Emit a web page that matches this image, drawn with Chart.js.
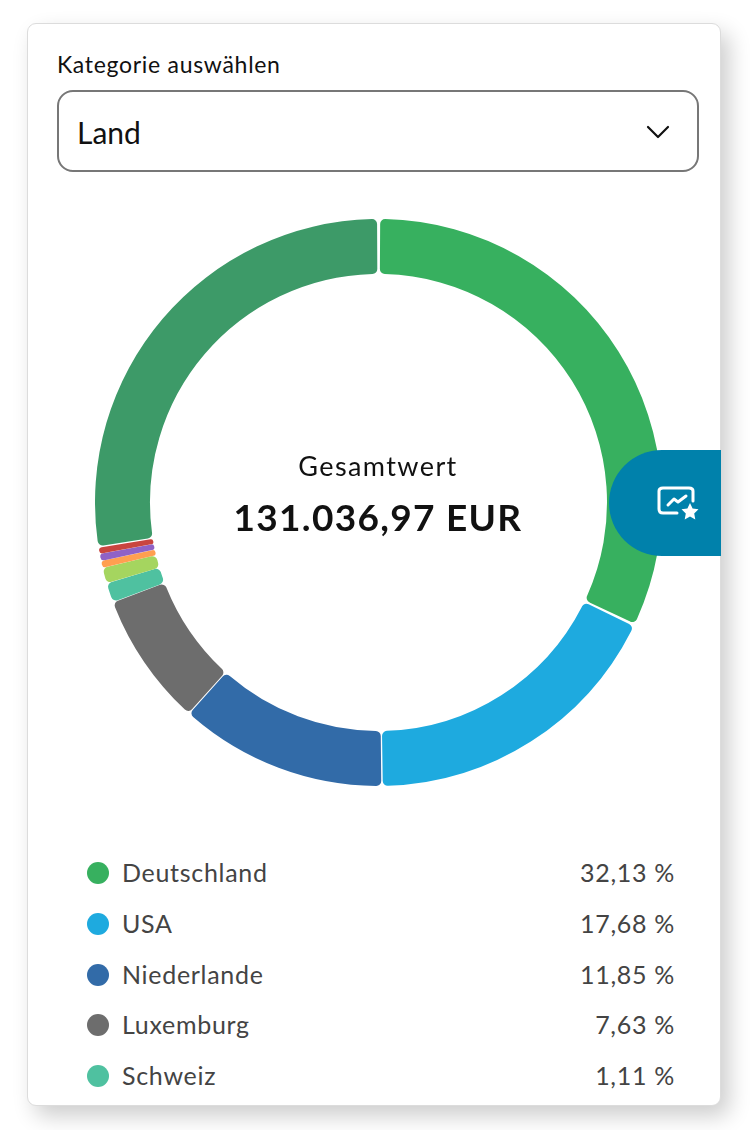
<!DOCTYPE html>
<html lang="de">
<head>
<meta charset="utf-8">
<title>Kategorie auswählen</title>
<script src="https://cdn.jsdelivr.net/npm/chart.js@4/dist/chart.umd.min.js"></script>
<style>
    html, body { margin: 0; padding: 0; background: #fff; width: 750px; height: 1130px; overflow: hidden; }
    body { position: relative; font-family: Lato, sans-serif; color: #111; }
    .card {
        position: absolute; left: 27px; top: 23px; width: 694px; height: 1083px;
        box-sizing: border-box; background: #fff; border: 1px solid #dcdcdc; border-radius: 9px;
        box-shadow: 8px 10px 22px rgba(0, 0, 0, 0.2);
    }
    .label { position: absolute; left: 57px; top: 50px; font-size: 23px; line-height: 28px; letter-spacing: 0.7px; }
    .select {
        position: absolute; left: 57px; top: 90px; width: 642px; height: 82px;
        box-sizing: border-box; border: 2px solid #777; border-radius: 16px;
        font-size: 30px; line-height: 80px; padding-left: 18px;
    }
    .select svg { position: absolute; right: 27px; top: 32px; }
    #chartWrap { position: absolute; left: 95px; top: 219px; width: 567px; height: 567px; }
    .center { position: absolute; left: 78px; width: 600px; text-align: center; }
    #centerLabel { top: 449px; font-size: 27px; line-height: 34px; letter-spacing: 1.4px; }
    #centerValue { top: 495px; font-size: 37px; line-height: 44px; font-weight: 700; letter-spacing: 1.3px; }
    .tab {
        position: absolute; left: 609px; top: 450px; width: 112px; height: 106px;
        background: #0081ab; border-radius: 53px 0 0 53px;
    }
    .tab svg { position: absolute; left: 48px; top: 36px; }
    .row { position: absolute; left: 87px; width: 588px; height: 30px; font-size: 25px; line-height: 30px; letter-spacing: 0.7px; color: #444; }
    .dot { position: absolute; left: 0; top: 5px; width: 22px; height: 22px; border-radius: 50%; }
    .name { position: absolute; left: 35px; top: 0; }
    .share { position: absolute; right: 0; top: 0; }
</style>
</head>
<body>
<div class="card"></div>
<div class="label">Kategorie auswählen</div>
<div class="select">Land
    <svg width="24" height="16" viewBox="0 0 24 16"><path d="M2 3 L12 13 L22 3" fill="none" stroke="#111" stroke-width="2.2" stroke-linecap="round" stroke-linejoin="round"/></svg>
</div>
<div id="chartWrap"><canvas id="myChart" width="567" height="567"></canvas></div>
<div class="center" id="centerLabel"></div>
<div class="center" id="centerValue"></div>
<div class="tab">
    <svg width="44" height="36" viewBox="0 0 44 36">
        <path d="M20 27 H6 Q2 27 2 23 V5 Q2 2 6 2 H32 Q36 2 36 5 V15" fill="none" stroke="#fff" stroke-width="3" stroke-linecap="round"/>
        <path d="M11 19 L17 13 L21 16 L29 10" fill="none" stroke="#fff" stroke-width="3" stroke-linecap="round" stroke-linejoin="round"/>
        <path d="M33 17 L35.6 22.6 L41.5 23.3 L37.2 27.4 L38.3 33.5 L33 30.5 L27.7 33.5 L28.8 27.4 L24.5 23.3 L30.4 22.6 Z" fill="#fff"/>
    </svg>
</div>
<div id="legend"></div>

<script>
// ---------------- DATA ----------------
const categories = ["Deutschland", "USA", "Niederlande", "Luxemburg", "Schweiz", "Land 6", "Land 7", "Land 8", "Land 9", "Sonstige"];
const shares = [32.13, 17.68, 11.85, 7.63, 1.11, 0.9, 0.4, 0.4, 0.35, 27.55];
const colors = ["#37b05f", "#1eaadf", "#326ba8", "#6d6d6d", "#4fc1a0", "#a5d55f", "#ff9f50", "#8f62c6", "#c9453f", "#3d9a68"];
const legendCount = 5;
const legendTops = [857, 908, 959, 1009, 1060];
const centerLabel = "Gesamtwert";
const centerValue = "131.036,97 EUR";

document.getElementById("centerLabel").innerText = centerLabel;
document.getElementById("centerValue").innerText = centerValue;

// ---------------- LEGEND ----------------
const legend = document.getElementById("legend");
for (let i = 0; i < legendCount; i++) {
    const row = document.createElement("div");
    row.className = "row";
    row.style.top = legendTops[i] + "px";
    const pct = shares[i].toLocaleString("de-DE", { minimumFractionDigits: 2 });
    row.innerHTML = `<span class="dot" style="background:${colors[i]}"></span>` +
        `<span class="name">${categories[i]}</span><span class="share">${pct} %</span>`;
    legend.appendChild(row);
}

// ---------------- CHART ----------------
new Chart(document.getElementById("myChart").getContext("2d"), {
    type: "doughnut",
    data: {
        labels: categories,
        datasets: [{
            data: shares,
            backgroundColor: colors,
            borderWidth: 0,
            borderRadius: 5,
            spacing: 3
        }]
    },
    options: {
        responsive: false,
        animation: false,
        cutout: "80.5%",
        layout: { padding: 0 },
        plugins: {
            legend: { display: false },
            tooltip: { enabled: false }
        }
    }
});
</script>
</body>
</html>
